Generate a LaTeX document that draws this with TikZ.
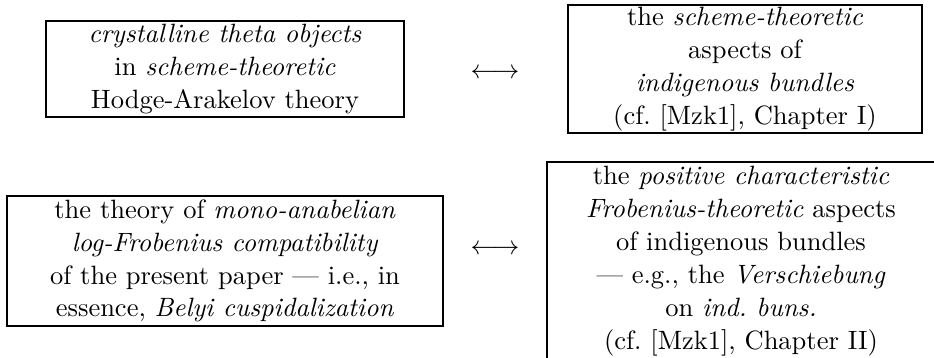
\documentclass[tikz,border=0pt]{standalone}
\begin{document}
\begin{tikzpicture}[x=0.3774pt,y=-0.3774pt,
  box/.style={draw,line width=0.7pt,inner sep=0pt,align=center,
    font=\fontsize{10}{12.4}\selectfont},
  arr/.style={inner sep=0pt}]
\useasboundingbox (0,0) rectangle (934,357);
\node[box,minimum width=358*0.3774pt,minimum height=96*0.3774pt] (b1) at (225,69)
  {\emph{crystalline theta objects}\\ in \emph{scheme-theoretic}\\ Hodge-Arakelov theory};
\node[box,minimum width=354*0.3774pt,minimum height=128*0.3774pt] (b2) at (745,69)
  {the \emph{scheme-theoretic}\\ aspects of\\ \emph{indigenous bundles}\\ (cf.\ [Mzk1], Chapter I)};
\node[box,minimum width=436*0.3774pt,minimum height=130*0.3774pt] (b3) at (225,261)
  {the theory of \emph{mono-anabelian}\\ \emph{log-Frobenius compatibility}\\ of the present paper --- i.e., in\\ essence, \emph{Belyi cuspidalization}};
\node[box,minimum width=388*0.3774pt,minimum height=198*0.3774pt] (b4) at (741,261)
  {the \emph{positive characteristic}\\ \emph{Frobenius-theoretic} aspects\\ of indigenous bundles\\ --- e.g., the \emph{Verschiebung}\\ on \emph{ind.\ buns.}\\ (cf.\ [Mzk1], Chapter II)};
\node[arr] (a1) at (495,74) {$\longleftrightarrow$};
\node[arr] (a2) at (495,250) {$\longleftrightarrow$};
\end{tikzpicture}
\end{document}
